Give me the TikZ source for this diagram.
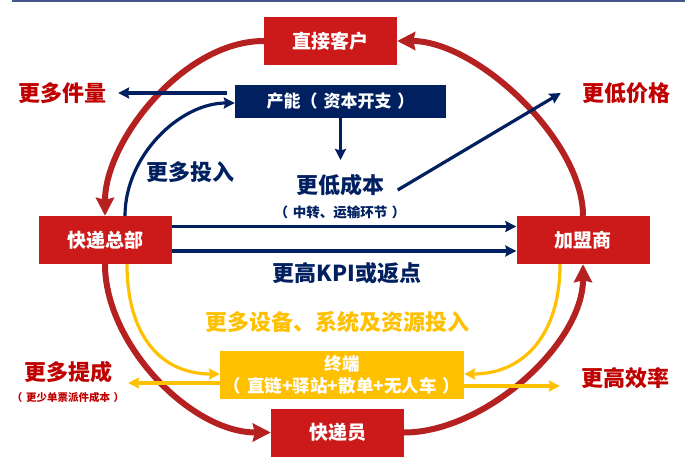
\documentclass[tikz,border=0pt]{standalone}
\usepackage{fontspec}
\setmainfont{Noto Sans CJK SC}
\usetikzlibrary{arrows.meta}
\definecolor{hong}{HTML}{CC1A1A}
\definecolor{anhong}{HTML}{B52020}
\definecolor{zihong}{HTML}{C00000}
\definecolor{zanglan}{HTML}{002060}
\definecolor{jinhuang}{HTML}{FFC000}
\definecolor{xian}{HTML}{44598A}
% 全角括号内侧留出空隙
\newcommand\kuozi[1]{（\hspace{.35em}#1\hspace{.35em}）}
\tikzset{
  kuang/.style={text=white, inner sep=0pt, font=\bfseries\fontsize{19}{19}\selectfont},
  hongkuang/.style={kuang, fill=hong, minimum width=133pt, minimum height=48pt},
  lankuang/.style={kuang, fill=zanglan, minimum width=211pt, minimum height=33pt, font=\bfseries\fontsize{17}{17}\selectfont},
  huangkuang/.style={kuang, fill=jinhuang, minimum width=244pt, minimum height=48pt, align=center, font=\bfseries\fontsize{17.5}{22}\selectfont},
  biaoqian/.style={inner sep=0pt, font=\bfseries\fontsize{22}{22}\selectfont},
  hongzi/.style={biaoqian, text=zihong},
  lanzi/.style={biaoqian, text=zanglan},
  huangzi/.style={biaoqian, text=jinhuang},
  hongjian/.style={-{Stealth[length=18pt, width=18pt, inset=2pt]}, draw=anhong, line width=6pt},
  lanjian/.style={-{Stealth[length=11pt, width=11pt, inset=1.5pt]}, draw=zanglan, line width=3.2pt},
  huangjian/.style={-{Stealth[length=11pt, width=11pt, inset=1.5pt]}, draw=jinhuang, line width=3.2pt},
}
\begin{document}
\begin{tikzpicture}[x=1pt,y=-1pt]
  \useasboundingbox (0,0) rectangle (696,471);
  \fill[white] (0,0) rectangle (696,471);
  \fill[xian] (12,0) rectangle (685,1.6);

  % 各个环节
  \node[hongkuang] (kh) at (330.5,41) {直接客户};
  \node[lankuang] (cn) at (340.5,101.5) {产能\kuozi{资本开支}};
  \node[hongkuang] (zb) at (105,240) {快递总部};
  \node[hongkuang] (jm) at (583,240) {加盟商};
  \node[huangkuang] (zd) at (342,375) {终端\\\kuozi{直链+驿站+散单+无人车}};
  \node[hongkuang] (kdy) at (337.5,432.5) {快递员};

  % 文字说明
  \node[hongzi] (jl) at (63,93) {更多件量};
  \node[hongzi] (jg) at (626,93) {更低价格};
  \node[lanzi] (tr) at (190,172) {更多投入};
  \node[lanzi] (cb) at (340.5,185) {更低成本};
  \node[lanzi, font=\bfseries\fontsize{13.5}{13.5}\selectfont] (hj) at (340,212) {\kuozi{中转、运输环节}};
  \node[lanzi] (kpi) at (347,273) {更高KPI或返点};
  \node[huangzi] (sb) at (337,322) {更多设备、系统及资源投入};
  \node[hongzi] (tc) at (68,372) {更多提成};
  \node[hongzi, font=\bfseries\fontsize{10.5}{10.5}\selectfont] (tcx) at (68,397) {\kuozi{更少单票派件成本}};
  \node[hongzi] (xl) at (625,378) {更高效率};

  % 外圈红色循环
  \draw[hongjian] (kh.west) .. controls +(-80,0) and +(0,-75) .. (zb.north);
  \draw[hongjian] (jm.north) .. controls +(0,-75) and +(80,0) .. (kh.east);
  \draw[hongjian] (zb.south) .. controls +(0,80) and +(-80,0) .. (kdy.west);
  \draw[hongjian] (kdy.east) .. controls +(80,0) and +(0,80) .. (jm.south);

  % 蓝色：投入与成本
  \draw[lanjian] ([xshift=20pt]zb.north) .. controls +(0,-60) and +(-55,0) .. ([yshift=-1.5pt]cn.west);
  \draw[lanjian, shorten <=8pt, shorten >=11pt] ([yshift=8.5pt]cn.west) -- (jl.east);
  \draw[lanjian, shorten >=14pt] (cn.south) -- (cb.north);
  \draw[lanjian] ([xshift=13pt,yshift=-5pt]cb.east) -- ([xshift=-21pt]jg.west);
  \draw[lanjian] ([yshift=13.5pt]zb.east) -- ([yshift=13.5pt]jm.west);
  \draw[lanjian] ([yshift=-11pt]zb.east) -- ([yshift=-11pt]jm.west);

  % 黄色：终端投入
  \draw[huangjian] ([xshift=22pt]zb.south) .. controls +(0,70) and +(-60,0) .. ([yshift=1pt]zd.west);
  \draw[huangjian] ([xshift=-23pt]jm.south) .. controls +(0,70) and +(60,0) .. ([yshift=1pt]zd.east);
  \draw[huangjian, shorten >=16pt] ([yshift=-8pt]zd.west) -- ([yshift=-8pt]zd.west -| tc.east);
  \draw[huangjian, shorten >=21pt] ([yshift=-11pt]zd.east) -- ([yshift=-11pt]zd.east -| xl.west);

  % 方框压在箭头之上
  \node[hongkuang] at (kh) {直接客户};
  \node[lankuang] at (cn) {产能\kuozi{资本开支}};
  \node[hongkuang] at (zb) {快递总部};
  \node[hongkuang] at (jm) {加盟商};
  \node[huangkuang] at (zd) {终端\\\kuozi{直链+驿站+散单+无人车}};
  \node[hongkuang] at (kdy) {快递员};
\end{tikzpicture}
\end{document}
